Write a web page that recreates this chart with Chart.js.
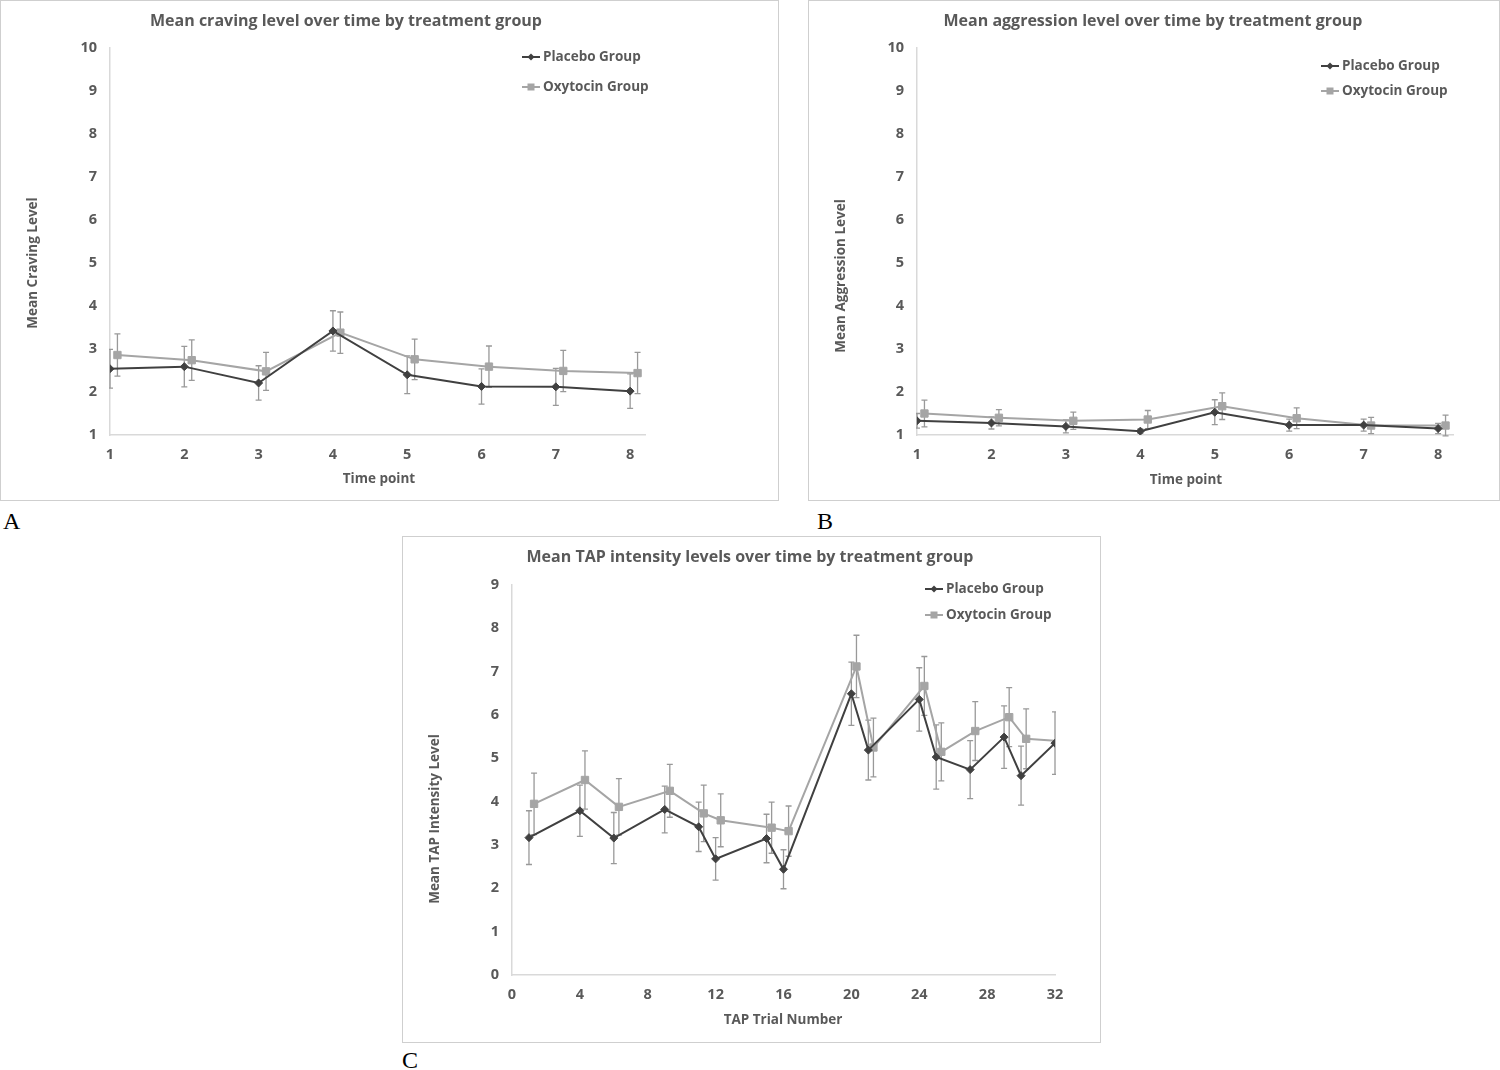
<!DOCTYPE html>
<html>
<head>
<meta charset="utf-8">
<script src="https://cdn.jsdelivr.net/npm/chart.js@4.4.1/dist/chart.umd.min.js"></script>
<style>
  html, body { margin: 0; padding: 0; background: #ffffff; }
  body { width: 1500px; height: 1070px; position: relative; overflow: hidden; }
  .box { position: absolute; border: 1px solid #cfcfcf; box-sizing: border-box; background: #fff; }
  .box canvas { position: absolute; left: 0; top: 0; }
  .lbl { position: absolute; font-family: "Liberation Serif", "Times New Roman", serif; font-size: 24px; color: #000; line-height: 1; }
</style>
</head>
<body>
<div class="box" style="left:0px;top:0px;width:779px;height:501px;"><canvas id="cA" width="777" height="499"></canvas></div>
<div class="box" style="left:808px;top:0px;width:692px;height:501px;"><canvas id="cB" width="690" height="499"></canvas></div>
<div class="box" style="left:402px;top:536px;width:699px;height:507px;"><canvas id="cC" width="697" height="505"></canvas></div>
<div class="lbl" style="left:3px;top:509px;">A</div>
<div class="lbl" style="left:817px;top:509px;">B</div>
<div class="lbl" style="left:402px;top:1048px;">C</div>

<script>
// ---------------- DATA ----------------
const seriesNames = ["Placebo Group", "Oxytocin Group"];

// Panel A: craving
const craveTime = [1, 2, 3, 4, 5, 6, 7, 8];
const craveTimeOxy = [1.1, 2.1, 3.1, 4.1, 5.1, 6.1, 7.1, 8.1];
const cravePlacebo = [2.54, 2.59, 2.21, 3.42, 2.40, 2.13, 2.12, 2.02];
const cravePlaceboErr = [0.45, 0.47, 0.40, 0.47, 0.44, 0.41, 0.43, 0.40];
const craveOxy = [2.86, 2.74, 2.48, 3.38, 2.76, 2.59, 2.49, 2.44];
const craveOxyErr = [0.49, 0.47, 0.44, 0.48, 0.47, 0.48, 0.48, 0.48];

// Panel B: aggression
const aggrTime = [1, 2, 3, 4, 5, 6, 7, 8];
const aggrTimeOxy = [1.1, 2.1, 3.1, 4.1, 5.1, 6.1, 7.1, 8.1];
const aggrPlacebo = [1.33, 1.28, 1.20, 1.09, 1.53, 1.23, 1.23, 1.15];
const aggrPlaceboErr = [0.17, 0.14, 0.15, 0.05, 0.29, 0.14, 0.14, 0.12];
const aggrOxy = [1.50, 1.40, 1.33, 1.36, 1.67, 1.39, 1.22, 1.22];
const aggrOxyErr = [0.31, 0.19, 0.20, 0.21, 0.31, 0.24, 0.19, 0.24];

// Panel C: TAP intensity
const tapTrials = [1, 4, 6, 9, 11, 12, 15, 16, 20, 21, 24, 25, 27, 29, 30, 32];
const tapTrialsOxy = [1.3, 4.3, 6.3, 9.3, 11.3, 12.3, 15.3, 16.3, 20.3, 21.3, 24.3, 25.3, 27.3, 29.3, 30.3, 32.3];
const tapPlacebo = [3.17, 3.79, 3.16, 3.82, 3.42, 2.68, 3.15, 2.44, 6.49, 5.19, 6.36, 5.03, 4.74, 5.49, 4.60, 5.35];
const tapPlaceboErr = [0.62, 0.59, 0.59, 0.54, 0.57, 0.49, 0.56, 0.45, 0.73, 0.69, 0.73, 0.74, 0.67, 0.72, 0.68, 0.72];
const tapOxy = [3.95, 4.50, 3.88, 4.25, 3.73, 3.57, 3.40, 3.32, 7.12, 5.25, 6.67, 5.15, 5.63, 5.95, 5.45, 5.40];
const tapOxyErr = [0.71, 0.67, 0.65, 0.61, 0.65, 0.61, 0.59, 0.58, 0.72, 0.68, 0.68, 0.67, 0.68, 0.68, 0.69, 0.69];

// Tick labels
const timeTicks = [1, 2, 3, 4, 5, 6, 7, 8];
const levelTicks10 = [1, 2, 3, 4, 5, 6, 7, 8, 9, 10];
const trialTicks = [0, 4, 8, 12, 16, 20, 24, 28, 32];
const levelTicks9 = [0, 1, 2, 3, 4, 5, 6, 7, 8, 9];

// ---------------- STYLE ----------------
const FONT = "'Open Sans', Lato, sans-serif";
const TEXT = "#595959";
const PLACEBO = "#404040";
const OXY = "#a5a5a5";
const ERR = "#999999";
const AXIS = "#d9d9d9";

function pts(xs, ys) { return xs.map((x, i) => ({ x: x, y: ys[i] })); }

const errorBarsPlugin = {
  id: "errorBars",
  beforeDatasetsDraw(chart) {
    const ctx = chart.ctx, xs = chart.scales.x, ys = chart.scales.y, area = chart.chartArea;
    ctx.save();
    ctx.beginPath();
    ctx.rect(area.left - 1, 0, area.right - area.left + 2, chart.height);
    ctx.clip();
    ctx.strokeStyle = ERR;
    ctx.lineWidth = 1.3;
    chart.data.datasets.forEach(ds => {
      if (!ds.errors) return;
      ds.data.forEach((p, j) => {
        if (p.x > xs.max) return;
        const e = ds.errors[j];
        const x = xs.getPixelForValue(p.x);
        const yt = ys.getPixelForValue(p.y + e);
        const yb = ys.getPixelForValue(p.y - e);
        ctx.beginPath();
        ctx.moveTo(x, yt); ctx.lineTo(x, yb);
        ctx.moveTo(x - 3, yt); ctx.lineTo(x + 3, yt);
        ctx.moveTo(x - 3, yb); ctx.lineTo(x + 3, yb);
        ctx.stroke();
      });
    });
    ctx.restore();
  }
};

const textPlugin = {
  id: "texts",
  afterDraw(chart) {
    const o = chart.options.plugins.texts;
    if (!o) return;
    const ctx = chart.ctx;
    ctx.save();
    ctx.fillStyle = TEXT;
    ctx.textBaseline = "middle";
    ctx.font = "bold " + o.titleSize + "px " + FONT;
    ctx.textAlign = "center";
    ctx.fillText(o.title, o.titleX, o.titleY);
    ctx.font = "bold " + o.axisSize + "px " + FONT;
    ctx.fillText(o.xTitle, o.xTitleX, o.xTitleY);
    ctx.save();
    ctx.translate(o.yTitleX, o.yTitleY);
    ctx.rotate(-Math.PI / 2);
    ctx.fillText(o.yTitle, 0, 0);
    ctx.restore();
    ctx.font = "bold " + o.legendSize + "px " + FONT;
    ctx.textAlign = "left";
    const items = [
      { name: seriesNames[0], color: PLACEBO, y: o.legY1, shape: "diamond" },
      { name: seriesNames[1], color: OXY, y: o.legY2, shape: "square" }
    ];
    items.forEach(it => {
      const lx = o.legX;
      ctx.strokeStyle = it.color;
      ctx.lineWidth = 2;
      ctx.beginPath();
      ctx.moveTo(lx, it.y); ctx.lineTo(lx + 18, it.y);
      ctx.stroke();
      ctx.fillStyle = it.color;
      const cx = lx + 9;
      if (it.shape === "diamond") {
        ctx.beginPath();
        ctx.moveTo(cx, it.y - 3.5); ctx.lineTo(cx + 3.5, it.y); ctx.lineTo(cx, it.y + 3.5); ctx.lineTo(cx - 3.5, it.y);
        ctx.closePath(); ctx.fill();
      } else {
        ctx.fillRect(cx - 3.5, it.y - 3.5, 7, 7);
      }
      ctx.fillStyle = TEXT;
      ctx.fillText(it.name, lx + 21, it.y);
    });
    ctx.restore();
  }
};

function makeChart(id, cfg) {
  const tickFont = { family: FONT, size: 14.5, weight: "bold" };
  return new Chart(document.getElementById(id), {
    type: "line",
    data: {
      datasets: [
        {
          label: seriesNames[0],
          data: cfg.placebo,
          errors: cfg.placeboErr,
          borderColor: PLACEBO, backgroundColor: PLACEBO,
          pointBackgroundColor: PLACEBO, pointBorderColor: PLACEBO,
          borderWidth: 2, pointStyle: "rectRot", pointRadius: 4, pointBorderWidth: 1,
          tension: 0
        },
        {
          label: seriesNames[1],
          data: cfg.oxy,
          errors: cfg.oxyErr,
          borderColor: OXY, backgroundColor: OXY,
          pointBackgroundColor: OXY, pointBorderColor: OXY,
          borderWidth: 2, pointStyle: "rect", pointRadius: 5.2, pointBorderWidth: 1,
          tension: 0,
          clip: cfg.oxyClip
        }
      ]
    },
    options: {
      responsive: false,
      animation: false,
      devicePixelRatio: 1,
      layout: { padding: { left: 0, top: cfg.top, right: cfg.right, bottom: 0 } },
      plugins: {
        legend: { display: false },
        tooltip: { enabled: false },
        title: { display: false },
        texts: cfg.texts
      },
      scales: {
        x: {
          type: "linear",
          min: cfg.xMin, max: cfg.xMax,
          grid: { display: false, drawTicks: false },
          border: { display: true, color: AXIS, width: 1.5 },
          ticks: { font: tickFont, color: TEXT, padding: 11, maxRotation: 0, autoSkip: false },
          afterBuildTicks(s) { s.ticks = cfg.xTicks.map(v => ({ value: v })); },
          afterFit(s) { s.height = cfg.xHeight; }
        },
        y: {
          type: "linear",
          min: cfg.yMin, max: cfg.yMax,
          grid: { display: false, drawTicks: false },
          border: { display: true, color: AXIS, width: 1.5 },
          ticks: { font: tickFont, color: TEXT, padding: 13 },
          afterBuildTicks(s) { s.ticks = cfg.yTicks.map(v => ({ value: v })); },
          afterFit(s) { s.width = cfg.yWidth; }
        }
      }
    },
    plugins: [errorBarsPlugin, textPlugin]
  });
}

makeChart("cA", {
  placebo: pts(craveTime, cravePlacebo), placeboErr: cravePlaceboErr,
  oxy: pts(craveTimeOxy, craveOxy), oxyErr: craveOxyErr, oxyClip: undefined,
  xMin: 1, xMax: 8.2, xTicks: timeTicks, yMin: 1, yMax: 10, yTicks: levelTicks10,
  top: 47, right: 133, xHeight: 65, yWidth: 109,
  texts: {
    title: "Mean craving level over time by treatment group", titleX: 345, titleY: 20, titleSize: 16,
    xTitle: "Time point", xTitleX: 378, xTitleY: 478, axisSize: 13.5,
    yTitle: "Mean Craving Level", yTitleX: 32, yTitleY: 262,
    legX: 521, legY1: 56, legY2: 86, legendSize: 13.5
  }
});

makeChart("cB", {
  placebo: pts(aggrTime, aggrPlacebo), placeboErr: aggrPlaceboErr,
  oxy: pts(aggrTimeOxy, aggrOxy), oxyErr: aggrOxyErr, oxyClip: undefined,
  xMin: 1, xMax: 8.2, xTicks: timeTicks, yMin: 1, yMax: 10, yTicks: levelTicks10,
  top: 47, right: 46, xHeight: 65, yWidth: 108,
  texts: {
    title: "Mean aggression level over time by treatment group", titleX: 344, titleY: 20, titleSize: 16,
    xTitle: "Time point", xTitleX: 377, xTitleY: 479, axisSize: 13.5,
    yTitle: "Mean Aggression Level", yTitleX: 32, yTitleY: 275,
    legX: 512, legY1: 65, legY2: 90, legendSize: 13.5
  }
});

makeChart("cC", {
  placebo: pts(tapTrials, tapPlacebo), placeboErr: tapPlaceboErr,
  oxy: pts(tapTrialsOxy, tapOxy), oxyErr: tapOxyErr, oxyClip: 0,
  xMin: 0, xMax: 32, xTicks: trialTicks, yMin: 0, yMax: 9, yTicks: levelTicks9,
  top: 48, right: 45, xHeight: 67, yWidth: 109,
  texts: {
    title: "Mean TAP intensity levels over time by treatment group", titleX: 347, titleY: 20, titleSize: 16,
    xTitle: "TAP Trial Number", xTitleX: 380, xTitleY: 483, axisSize: 13.5,
    yTitle: "Mean TAP Intensity Level", yTitleX: 32, yTitleY: 282,
    legX: 522, legY1: 52, legY2: 78, legendSize: 13.5
  }
});
</script>
</body>
</html>
